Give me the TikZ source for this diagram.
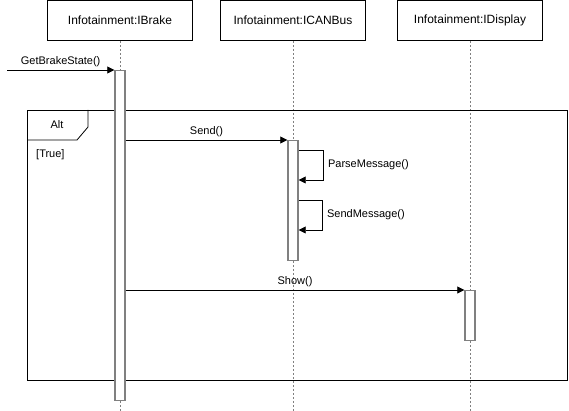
\documentclass[tikz,border=0pt]{standalone}
\usepackage{fontspec}
\setmainfont{Liberation Sans}
\usetikzlibrary{arrows.meta, positioning}

\begin{document}
\begin{tikzpicture}
	% style
	[x=1pt, y=-1pt,
	header/.style={rectangle,draw=black,fill=white,line width=0.8pt,minimum width=145pt,minimum height=40pt,inner sep=0pt,font=\fontsize{12}{14}\selectfont},
	lifeline/.style={draw=black!50,line width=1pt,dash pattern=on 2pt off 2pt},
	act/.style={rectangle,draw=black!50,fill=white,line width=1.4pt,minimum width=10pt,inner sep=0pt,anchor=north},
	msg/.style={-{Triangle[length=7pt,width=7pt]},line width=0.8pt,black},
	lbl/.style={font=\fontsize{11}{13}\selectfont,inner sep=1pt},
	frame/.style={rectangle,draw=black,line width=0.9pt,minimum width=540pt,minimum height=270pt,inner sep=0pt,anchor=north west}]

	\useasboundingbox (0,0) rectangle (569,411);

	% objects
	\node [header] (brake) at (120,20.5) {Infotainment:IBrake};
	\node [header] (canbus) at (293,20.5) {Infotainment:ICANBus};
	\node [header] (display) at (470,20.5) {Infotainment:IDisplay};

	% lifelines
	\coordinate (brake_end) at (120,411);
	\coordinate (canbus_end) at (293,411);
	\coordinate (display_end) at (470,411);
	\path [lifeline] (brake) -- (brake_end)
	                 (canbus) -- (canbus_end)
	                 (display) -- (display_end);

	% alt frame
	\node [frame] (alt) at (27,110) {};
	\coordinate (tab_a) at (27,140);
	\coordinate (tab_b) at (77,140);
	\coordinate (tab_c) at (88,127);
	\coordinate (tab_d) at (88,110);
	\draw [line width=0.8pt] (tab_a) -- (tab_b) -- (tab_c) -- (tab_d);
	\node [lbl] (alt_label) at (57,125) {Alt};
	\node [lbl, anchor=west] (guard) at (35,155) {[True]};

	% activations
	\node [act, minimum height=330pt] (brake_act) at (120,70) {};
	\node [act, minimum height=120pt] (canbus_act) at (293,140) {};
	\node [act, minimum height=50pt] (display_act) at (470,290) {};

	% messages
	\coordinate (caller) at (7,70);
	\draw [msg] (caller) -- (brake_act.north west)
		node [lbl, midway, above=2pt] {GetBrakeState()};
	\draw [msg] (canbus_act.north west -| brake_act.east) -- (canbus_act.north west)
		node [lbl, midway, above=2pt] {Send()};
	\draw [msg] (display_act.north west -| brake_act.east) -- (display_act.north west)
		node [lbl, midway, above=2pt] {Show()};

	% self calls
	\coordinate (parse_out) at ([yshift=-10pt]canbus_act.north east);
	\coordinate (parse_in) at ([yshift=-40pt]canbus_act.north east);
	\coordinate (send_out) at ([yshift=-60pt]canbus_act.north east);
	\coordinate (send_in) at ([yshift=-90pt]canbus_act.north east);
	\draw [msg] (parse_out) -- ++(25,0) -- ++(0,30)
		node [lbl, midway, right=3pt] {ParseMessage()} -- (parse_in);
	\draw [msg] (send_out) -- ++(24,0) -- ++(0,30)
		node [lbl, midway, right=3pt] {SendMessage()} -- (send_in);
\end{tikzpicture}
\end{document}
